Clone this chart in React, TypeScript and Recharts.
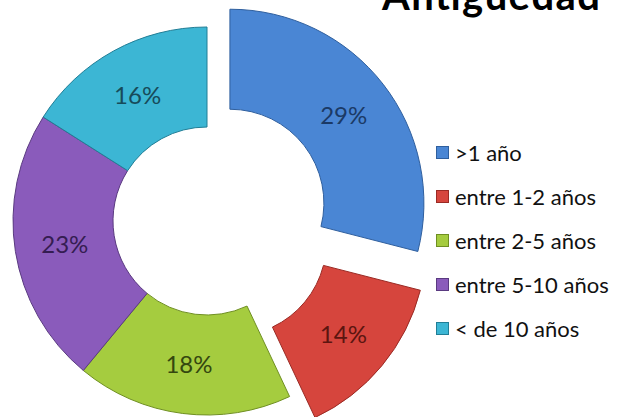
import { PieChart, Pie, Cell, Legend } from 'recharts';

const categories = ['>1 año', 'entre 1-2 años', 'entre 2-5 años', 'entre 5-10 años', '< de 10 años'];
const shares = [29, 14, 18, 23, 16];

const fills = ['#4a86d4', '#d6453d', '#a5cc3f', '#8a5bbb', '#3cb6d4'];
const strokes = ['#2f5f9e', '#9a2a24', '#6f8f22', '#5a3a80', '#217e96'];
const labelColors = ['#1b3a66', '#5c1510', '#34470f', '#351d52', '#174b5a'];
const explode = [29, 33, 0, 0, 0];

const CX = 207;
const CY = 221;
const INNER = 94;
const OUTER = 194;
const RADIAN = Math.PI / 180;

const data = categories.map((name, i) => ({ name, value: shares[i] }));
const total = shares.reduce((a, b) => a + b, 0);

// centre of each slice, shifted outwards along its middle angle
const centres = shares.map((v, i) => {
  const before = shares.slice(0, i).reduce((a, b) => a + b, 0);
  const mid = ((before + v / 2) / total) * 360 * RADIAN;
  return { cx: CX + explode[i] * Math.sin(mid), cy: CY - explode[i] * Math.cos(mid) };
});

function makeLabel(only: number) {
  return (props: any) => {
    if (props.index !== only) return null;
    const r = (props.innerRadius + props.outerRadius) / 2;
    const x = props.cx + r * Math.cos(-props.midAngle * RADIAN);
    const y = props.cy + r * Math.sin(-props.midAngle * RADIAN);
    return (
      <text x={x} y={y} fill={labelColors[only]} fontSize={24} fontFamily="Lato" textAnchor="middle" dominantBaseline="central">
        {`${props.value}%`}
      </text>
    );
  };
}

function LegendList() {
  return (
    <div style={{ fontFamily: 'Lato', fontSize: 22, color: '#111' }}>
      {categories.map((c, i) => (
        <div key={c} style={{ display: 'flex', alignItems: 'center', height: 44 }}>
          <span
            style={{
              width: 13, height: 13, marginRight: 6, background: fills[i],
              border: `1px solid ${strokes[i]}`, boxSizing: 'border-box', flexShrink: 0,
            }}
          />
          <span style={{ whiteSpace: 'nowrap' }}>{c}</span>
        </div>
      ))}
    </div>
  );
}

export default function App() {
  return (
    <div style={{ position: 'absolute', left: 0, top: 0, width: 622, height: 417, background: '#fff' }}>
      <PieChart width={622} height={417} margin={{ top: 0, right: 0, bottom: 0, left: 0 }}>
        {centres.map((c, i) => (
          <Pie
            key={i}
            data={data}
            dataKey="value"
            nameKey="name"
            cx={c.cx}
            cy={c.cy}
            innerRadius={INNER}
            outerRadius={OUTER}
            startAngle={90}
            endAngle={-270}
            labelLine={false}
            label={makeLabel(i)}
            isAnimationActive={false}
          >
            {data.map((d, j) => (
              <Cell
                key={d.name}
                fill={j === i ? fills[j] : 'none'}
                stroke={j === i ? strokes[j] : 'none'}
                strokeWidth={1}
              />
            ))}
          </Pie>
        ))}
        <Legend
          content={() => <LegendList />}
          wrapperStyle={{ position: 'absolute', left: 436, top: 130, width: 186 }}
        />
      </PieChart>
      <svg width={622} height={40} style={{ position: 'absolute', left: 0, top: 0 }}>
        <text x={382} y={10} fontSize={40} fontWeight="bold" fontFamily="Lato" fill="#000" textLength={218}>
          Antigüedad
        </text>
      </svg>
    </div>
  );
}
